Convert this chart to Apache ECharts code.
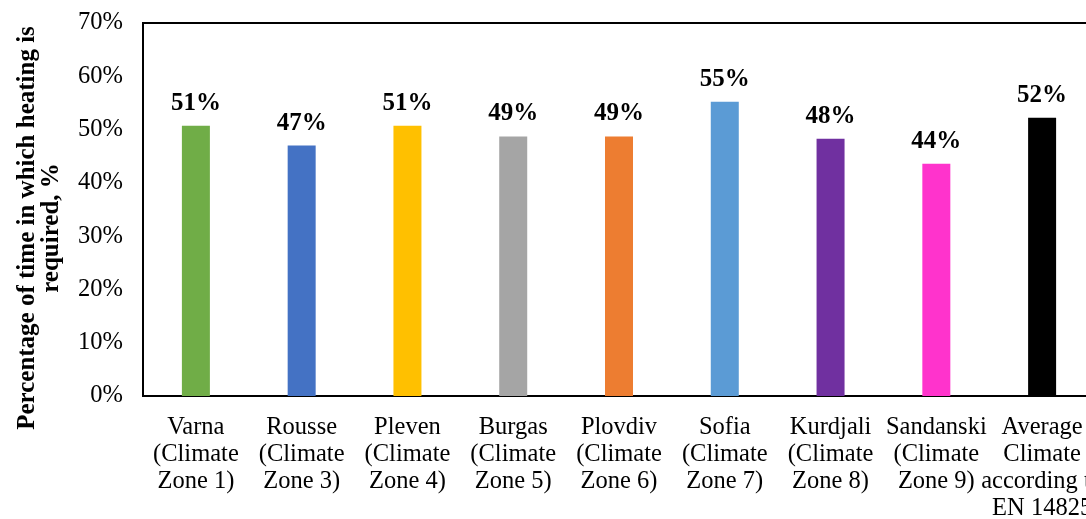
<!DOCTYPE html>
<html>
<head>
<meta charset="utf-8">
<script src="https://cdn.jsdelivr.net/npm/echarts@6/dist/echarts.min.js"></script>
<style>
  html, body { margin: 0; padding: 0; background: #ffffff; }
  #chart { width: 1086px; height: 519px; }
</style>
</head>
<body>
<div id="chart"></div>
<script>
// Heating-time share per city / climate zone
const categories = [
  'Varna\n(Climate\nZone 1)',
  'Rousse\n(Climate\nZone 3)',
  'Pleven\n(Climate\nZone 4)',
  'Burgas\n(Climate\nZone 5)',
  'Plovdiv\n(Climate\nZone 6)',
  'Sofia\n(Climate\nZone 7)',
  'Kurdjali\n(Climate\nZone 8)',
  'Sandanski\n(Climate\nZone 9)',
  'Average\nClimate\naccording to\nEN 14825'
];
const heatingShare = [50.7, 47.0, 50.7, 48.7, 48.7, 55.2, 48.3, 43.6, 52.2];
const barColors = ['#70AD47', '#4472C4', '#FFC000', '#A5A5A5', '#ED7D31', '#5B9BD5', '#7030A0', '#FF33CC', '#000000'];
const yTicks = [0, 10, 20, 30, 40, 50, 60, 70];

const serif = '"Liberation Serif", "Times New Roman", serif';
const chart = echarts.init(document.getElementById('chart'), null, { renderer: 'canvas' });

chart.setOption({
  backgroundColor: '#ffffff',
  animation: false,
  grid: {
    left: 143, top: 23, bottom: 123, right: -9,
    containLabel: false, outerBoundsMode: 'none',
    show: true, borderColor: '#000000', borderWidth: 2, backgroundColor: 'transparent'
  },
  xAxis: {
    type: 'category',
    data: categories,
    axisLine: { lineStyle: { color: '#000000', width: 2 } },
    axisTick: { show: false },
    axisLabel: {
      interval: 0, margin: 18, color: '#000000',
      fontFamily: serif, fontSize: 24.5, lineHeight: 27
    }
  },
  yAxis: {
    type: 'value',
    min: yTicks[0], max: yTicks[yTicks.length - 1], interval: 10,
    axisLine: { show: true, lineStyle: { color: '#000000', width: 2 } },
    axisTick: { show: false },
    splitLine: { show: false },
    axisLabel: {
      margin: 20, color: '#000000', fontFamily: serif, fontSize: 24.5,
      padding: [6, 0, 0, 0],
      formatter: v => v + '%'
    }
  },
  graphic: [{
    type: 'text',
    x: 40, y: 228,
    rotation: Math.PI / 2,
    style: {
      text: 'Percentage of time in which heating is\nrequired, %',
      font: 'bold 25px ' + serif,
      lineHeight: 24,
      fill: '#000000',
      align: 'center',
      verticalAlign: 'middle'
    }
  }],
  series: [{
    type: 'bar',
    barWidth: 28,
    data: heatingShare.map((v, i) => ({ value: v, itemStyle: { color: barColors[i] } })),
    label: {
      show: true, position: 'top', distance: 10,
      color: '#000000', fontFamily: serif, fontWeight: 'bold', fontSize: 25,
      formatter: p => Math.round(p.value) + '%'
    }
  }]
});
</script>
</body>
</html>
